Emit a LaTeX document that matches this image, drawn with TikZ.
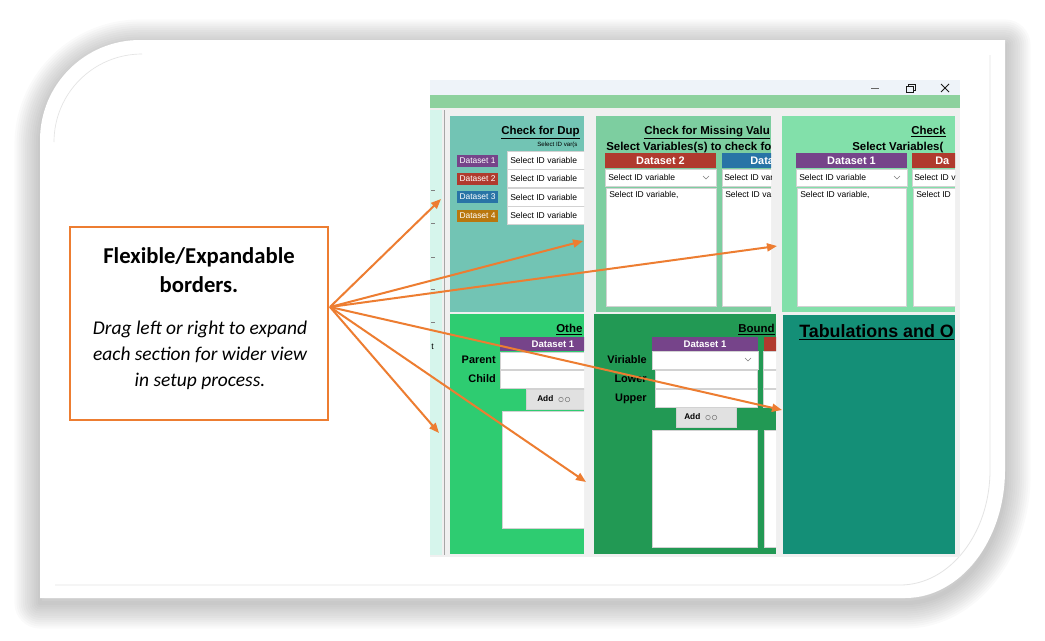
\documentclass[tikz,border=0pt]{standalone}
\usepackage{fontspec}
\setmainfont{Carlito}
\newfontfamily\uifont{Liberation Sans}
\usetikzlibrary{arrows.meta}

\definecolor{calloutorange}{RGB}{237,125,49}
\definecolor{titlebar}{RGB}{238,243,249}
\definecolor{menubar}{RGB}{141,209,158}
\definecolor{wingray}{RGB}{240,240,240}
\definecolor{mintstrip}{RGB}{214,245,236}
\definecolor{dupteal}{RGB}{114,196,180}
\definecolor{missgreen}{RGB}{125,206,160}
\definecolor{lightgreen}{RGB}{130,224,170}
\definecolor{othergreen}{RGB}{46,204,113}
\definecolor{boundgreen}{RGB}{34,153,84}
\definecolor{tabgreen}{RGB}{20,143,119}
\definecolor{dspurple}{RGB}{118,68,138}
\definecolor{dsred}{RGB}{176,58,46}
\definecolor{dsblue}{RGB}{40,116,166}
\definecolor{dsorange}{RGB}{185,119,14}
\definecolor{boxline}{RGB}{210,210,210}
\definecolor{cardline}{RGB}{228,228,228}
\definecolor{buttongray}{RGB}{225,225,225}

\def\cardpath{(40,598) -- (40,140) arc[start angle=180,end angle=270,radius=100] -- (1005,40) -- (1005,470) arc[start angle=0,end angle=90,x radius=100,y radius=128] -- cycle}

\begin{document}
\begin{tikzpicture}[x=0.75pt,y=0.75pt,yscale=-1,xscale=1,
	callarrow/.style={draw=calloutorange,line width=1.5pt,-{Triangle[length=7.5pt,width=6pt]}},
	uititle/.style={inner sep=0pt,font=\uifont\bfseries\fontsize{8.6}{10}\selectfont},
	uilabel/.style={inner sep=0pt,font=\uifont\bfseries\fontsize{8.2}{10}\selectfont},
	uitext/.style={inner sep=0pt,font=\uifont\fontsize{6.4}{8}\selectfont},
	badgetext/.style={inner sep=0pt,text=white,font=\uifont\fontsize{6.3}{8}\selectfont},
	headtext/.style={inner sep=0pt,text=white,font=\uifont\bfseries\fontsize{8.2}{10}\selectfont},
	addtext/.style={inner sep=0pt,font=\uifont\bfseries\fontsize{6.2}{8}\selectfont},
	whitebox/.style={fill=white,draw=boxline,line width=0.6pt},
	addbutton/.style={fill=buttongray,draw=boxline,line width=0.6pt},
	chevron/.style={draw=gray,line width=0.5pt},
	calltop/.style={inner sep=0pt,anchor=base,font=\bfseries\fontsize{17}{20}\selectfont},
	callbody/.style={inner sep=0pt,anchor=base,font=\itshape\fontsize{14.6}{17}\selectfont}
	]
	\useasboundingbox (0,0) rectangle (1045,640);
	
	%Card shadow
	\begin{scope}[shift={(0,5)}]
		\foreach \i in {1,...,12}{
			\pgfmathsetmacro{\lw}{\i*3.2}
			\draw[line width=\lw pt,black,opacity=0.018,line join=round] \cardpath;
		}
	\end{scope}
	%Card
	\fill[white] \cardpath;
	\draw[cardline,line width=0.5pt] (54,142) arc[start angle=180,end angle=270,radius=88];
	\draw[cardline,line width=0.6pt] (55,585) -- (900,585) arc[start angle=90,end angle=0,x radius=90,y radius=115] -- (990,55);
	
	%Window frame
	\fill[titlebar] (430,80) rectangle (960,95);
	\draw[gray!80!black,line width=0.5pt] (871,88) -- (879,88);
	\draw[gray!20!black,line width=0.6pt] (906,86) rectangle (913,92) (908,86) -- (908,84) -- (915,84) -- (915,90) -- (913,90);
	\draw[gray!20!black,line width=0.6pt] (941,84) -- (949,92) (941,92) -- (949,84);
	\fill[menubar] (430,95) rectangle (960,108);
	\fill[wingray] (430,108) rectangle (960,557);
	
	%Left strip
	\fill[mintstrip] (430,110) rectangle (442,555);
	\draw[gray!70,line width=0.7pt] (444,110) -- (444,555);
	\foreach \yy in {190,223,257,289,322}{
		\draw[gray,line width=0.5pt] (431,\yy) -- (435,\yy);
	}
	\node[uitext,anchor=base west] (cutt) at (431,349) {t};
	
	%Panel: duplicates
	\begin{scope}
		\clip (450,116) rectangle (584,312);
		\fill[dupteal] (450,116) rectangle (584,312);
		\node[uititle,anchor=base west] (duptitle) at (501,134) {\underline{Check for Dup}};
		\node[inner sep=0pt,font=\uifont\fontsize{4.6}{5}\selectfont,anchor=base west] (dupsel) at (537,146) {Select ID var(s};
		\foreach \n/\yy/\col in {1/160.5/dspurple,2/178.5/dsred,3/197/dsblue,4/215.5/dsorange}{
			\fill[\col] (457,\yy-6) rectangle (498,\yy+6);
			\node[badgetext] (badge\n) at (477.5,\yy) {Dataset \n};
			\draw[whitebox] (507,\yy-9) rectangle (590,\yy+9);
			\node[uitext,anchor=west] (idsel\n) at (510,\yy) {Select ID variable};
		}
	\end{scope}
	
	%Panel: missing values
	\begin{scope}
		\clip (596,116) rectangle (771,312);
		\fill[missgreen] (596,116) rectangle (771,312);
		\node[uititle,anchor=base west] (misstitle) at (644,134) {\underline{Check for Missing Valu}};
		\node[uititle,anchor=base west] (missvar) at (606,150) {Select Variables(s) to check fo};
		\fill[dsred] (605,153) rectangle (716,168);
		\node[headtext] (misshead) at (660.5,160.5) {Dataset 2};
		\fill[dsblue] (722,153) rectangle (780,168);
		\node[headtext,anchor=west] (missheadb) at (750,160.5) {Data};
		\draw[whitebox] (605,169) rectangle (716,186);
		\node[uitext,anchor=west] (missdrop) at (608,177.5) {Select ID variable};
		\draw[chevron] (703,176) -- (706,179) -- (709,176);
		\draw[whitebox] (722,169) rectangle (780,186);
		\node[uitext,anchor=west] (missdropb) at (724,177.5) {Select ID vari};
		\draw[whitebox] (606,188) rectangle (716,306);
		\node[uitext,anchor=base west] (misslist) at (609,197) {Select ID variable,};
		\draw[whitebox] (722,188) rectangle (780,306);
		\node[uitext,anchor=base west] (misslistb) at (725,197) {Select ID va};
	\end{scope}
	
	%Panel: third check
	\begin{scope}
		\clip (782,116) rectangle (955,312);
		\fill[lightgreen] (782,116) rectangle (955,312);
		\node[uititle,anchor=base west] (chktitle) at (911,134) {\underline{Check}};
		\node[uititle,anchor=base west] (chkvar) at (852,150) {Select Variables(};
		\fill[dspurple] (796,153) rectangle (907,168);
		\node[headtext] (chkhead) at (851.5,160.5) {Dataset 1};
		\fill[dsred] (912,153) rectangle (960,168);
		\node[headtext,anchor=west] (chkheadb) at (935,160.5) {Da};
		\draw[whitebox] (796,169) rectangle (907,186);
		\node[uitext,anchor=west] (chkdrop) at (799,177.5) {Select ID variable};
		\draw[chevron] (894,176) -- (897,179) -- (900,176);
		\draw[whitebox] (912,169) rectangle (960,186);
		\node[uitext,anchor=west] (chkdropb) at (914,177.5) {Select ID v};
		\draw[whitebox] (797,188) rectangle (906,306);
		\node[uitext,anchor=base west] (chklist) at (800,197) {Select ID variable,};
		\draw[whitebox] (913,188) rectangle (960,306);
		\node[uitext,anchor=base west] (chklistb) at (916,197) {Select ID};
	\end{scope}
	
	%Panel: other checks
	\begin{scope}
		\clip (450,314) rectangle (584,554);
		\fill[othergreen] (450,314) rectangle (584,554);
		\node[uititle,anchor=base west] (othtitle) at (556,332) {\underline{Othe}};
		\fill[dspurple] (500,337) rectangle (590,351);
		\node[headtext,font=\uifont\bfseries\fontsize{7.2}{9}\selectfont] (othhead) at (553,344) {Dataset 1};
		\node[uilabel,anchor=base east] (parent) at (496,363) {Parent};
		\draw[whitebox] (500,352) rectangle (590,369);
		\node[uilabel,anchor=base east] (child) at (496,382) {Child};
		\draw[whitebox] (500,370) rectangle (590,388);
		\draw[addbutton] (526,389) rectangle (590,409);
		\node[addtext,anchor=base west] (othadd) at (537,401) {Add};
		\draw[gray,line width=0.4pt] (561,399.5) circle[radius=2.3] (567.5,399.5) circle[radius=2.3];
		\draw[whitebox] (502,411) rectangle (590,528);
	\end{scope}
	
	%Panel: bounds
	\begin{scope}
		\clip (594,314) rectangle (776,554);
		\fill[boundgreen] (594,314) rectangle (776,554);
		\node[uititle,anchor=base west] (bndtitle) at (738,332) {\underline{Bound}};
		\fill[dspurple] (652,337) rectangle (758,351);
		\node[headtext,font=\uifont\bfseries\fontsize{7.2}{9}\selectfont] (bndhead) at (705,344) {Dataset 1};
		\fill[dsred] (764,337) rectangle (780,351);
		\node[uilabel,anchor=base east] (viri) at (647,363) {Viriable};
		\node[uilabel,anchor=base east] (lower) at (647,382) {Lower};
		\node[uilabel,anchor=base east] (upper) at (647,401) {Upper};
		\draw[whitebox] (652,351) rectangle (758,369);
		\draw[chevron] (745,358) -- (748,361) -- (751,358);
		\draw[whitebox] (763,351) rectangle (780,369);
		\draw[whitebox] (655,370) rectangle (757,388);
		\draw[whitebox] (763,370) rectangle (780,388);
		\draw[whitebox] (655,389) rectangle (757,407);
		\draw[whitebox] (763,389) rectangle (780,407);
		\draw[addbutton] (676,407) rectangle (736,427);
		\node[addtext,anchor=base west] (bndadd) at (684,419) {Add};
		\draw[gray,line width=0.4pt] (708,417.5) circle[radius=2.3] (714.5,417.5) circle[radius=2.3];
		\draw[whitebox] (652,430) rectangle (757,547);
		\draw[whitebox] (764,430) rectangle (780,547);
	\end{scope}
	
	%Panel: tabulations
	\begin{scope}
		\clip (783,315) rectangle (955,554);
		\fill[tabgreen] (783,315) rectangle (955,554);
		\node[inner sep=0pt,font=\uifont\bfseries\fontsize{13.4}{15}\selectfont,anchor=base west] (tabtitle) at (799,337) {\underline{Tabulations and O}};
	\end{scope}
	
	% Text Node
	\node[draw=calloutorange,line width=1.3pt,fill=white,minimum width=193.5pt,minimum height=144.75pt,inner sep=0pt] (call) at (199,323.5) {};
	\node[calltop] (calltitle) at (199,263) {Flexible/Expandable};
	\node[calltop] (calltitleb) at (199,292) {borders.};
	\node[callbody] (calltexta) at (200,334) {Drag left or right to expand};
	\node[callbody] (calltextb) at (200,360) {each section for wider view};
	\node[callbody] (calltextc) at (200,386) {in setup process.};
	
	%Straight Lines
	\coordinate (hub) at (330,307);
	\coordinate (stripa) at (441,199);
	\coordinate (splita) at (583,241);
	\coordinate (splitb) at (777,246);
	\coordinate (splitc) at (782,410);
	\coordinate (splitd) at (586,482);
	\coordinate (stripb) at (439,433);
	\foreach \t in {stripa,splita,splitb,splitc,splitd,stripb}{
		\draw[callarrow] (hub) -- (\t);
	}
	
\end{tikzpicture}
\end{document}
